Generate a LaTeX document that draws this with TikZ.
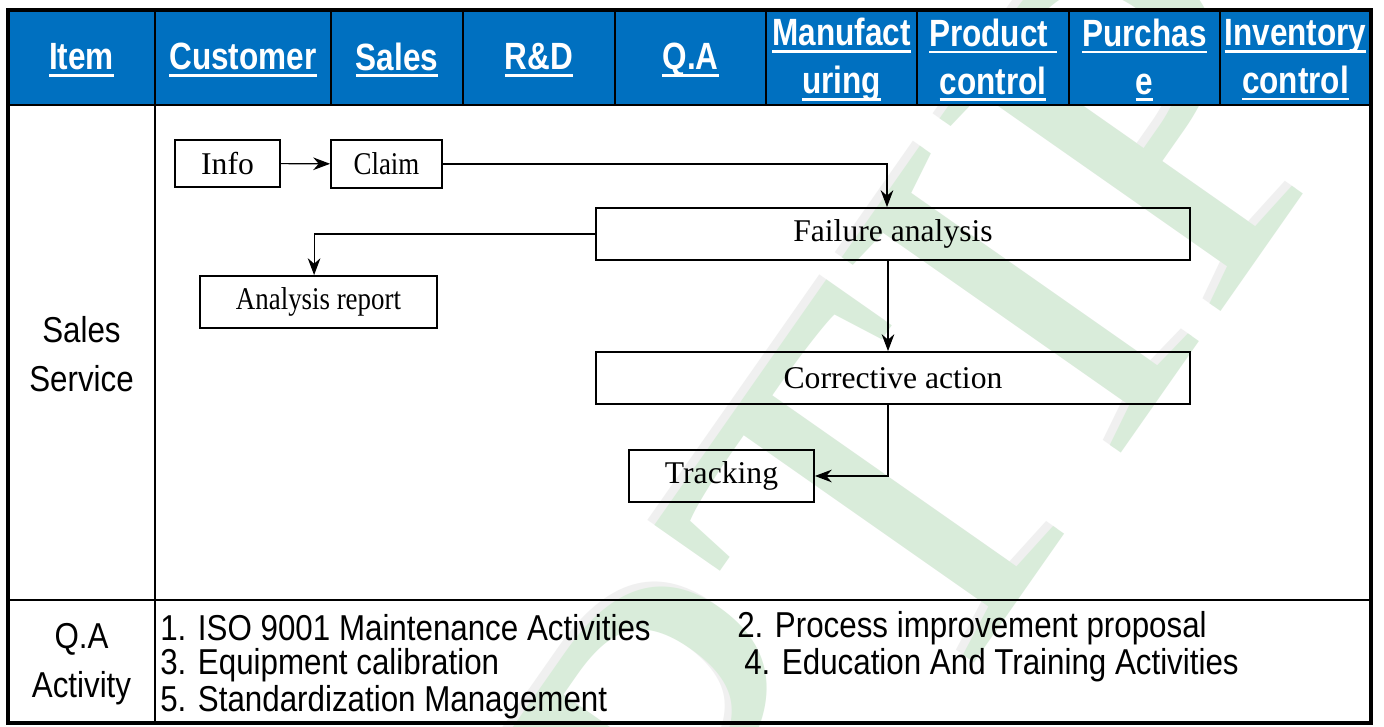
\documentclass[tikz,border=0pt]{standalone}
\usepackage{fontspec}
\setmainfont{Liberation Serif}
\setsansfont{Liberation Sans}
\newfontfamily\narrowsans[FakeStretch=0.87]{Liberation Sans}
\newfontfamily\headsans[FakeStretch=0.83]{Liberation Sans}
\newfontfamily\narrowserif[FakeStretch=0.85]{Liberation Serif}
\usetikzlibrary{arrows.meta}
\definecolor{headblue}{RGB}{0,112,192}
\definecolor{markgreen}{RGB}{217,236,218}
\newcommand{\hdul}[1]{\setbox0\hbox{#1}\rlap{\rule[-5pt]{\wd0}{2pt}}\box0}
\tikzstyle{flowbox}=[draw, line width=1.3pt, inner sep=0pt, font=\fontsize{22.5}{26}\selectfont]
\tikzstyle{headtext}=[text=white, align=center, font=\headsans\bfseries\fontsize{27}{34}\selectfont]
\tikzstyle{rowtext}=[align=center, font=\narrowsans\fontsize{25.6}{35}\selectfont]
\tikzstyle{itemtext}=[anchor=west, inner sep=0pt, font=\narrowsans\fontsize{25.6}{30}\selectfont]
\tikzstyle{flow}=[line width=0.8pt, -{Stealth[length=12pt,width=9pt]}]
\tikzstyle{grid}=[line width=1.6pt]

\begin{document}
\begin{tikzpicture}[x=0.025cm, y=-0.025cm,
  boxsize/.style 2 args={minimum width=#1*0.025cm, minimum height=#2*0.025cm}]
\useasboundingbox[fill=white] (0,0) rectangle (1384,727);

% watermark
\node[rotate=55, text=black!6, font=\fontsize{370}{370}\selectfont] (markshadow) at (923,425) {PTIP};
\node[rotate=55, text=markgreen, font=\fontsize{370}{370}\selectfont] (mark) at (930,430) {PTIP};

% header row
\fill[headblue] (8,10) rectangle (1371,105);
\foreach \x in {331,463,615,766,917,1069,1220}
  \draw[grid] (\x,10) -- (\x,105);
\foreach \x/\txt in {81.5/Item, 243/Customer, 397/Sales, 539/R\&D, 690.5/Q.A}
  \node[headtext] at (\x,60) {\hdul{\txt}};
\node[headtext] (manuf) at (841.5,60) {\hdul{Manufact}\\\hdul{uring}};
\node[headtext] (prodctl) at (993,60) {\hdul{Product }\\\hdul{control}};
\node[headtext] (purch) at (1144.5,60) {\hdul{Purchas}\\\hdul{e}};
\node[headtext] (invctl) at (1295.5,60) {\hdul{Inventory}\\\hdul{control}};

% table lines
\draw[grid] (8,105) -- (1371,105);
\draw[grid] (8,600) -- (1371,600);
\draw[grid] (155,10) -- (155,723);
\draw[line width=2.2pt] (8,10) rectangle (1371,723);

% row labels
\node[rowtext] (salesrow) at (81.5,354) {Sales\\Service};
\node[rowtext] (qarow) at (81.5,664) {Q.A\\Activity};

% flow
\node[flowbox, boxsize={105}{47}] (info) at (227.5,163.5) {Info};
\node[flowbox, boxsize={111}{48}] (claim) at (386.5,164) {\narrowserif Claim};
\node[flowbox, boxsize={594}{52}] (failure) at (893,234) {Failure analysis};
\node[flowbox, boxsize={237}{52}] (report) at (318.5,302) {\narrowserif Analysis report};
\node[flowbox, boxsize={594}{52}] (corrective) at (893,378) {Corrective action};
\node[flowbox, boxsize={185}{52}] (tracking) at (721.5,476) {Tracking};

\draw[flow] (info) -- (claim);
\draw[flow] (claim) -| ([xshift=-0.15cm]failure.north);
\draw[flow] (failure) -| ([xshift=-0.11cm]report.north);
\draw[flow] ([xshift=-0.125cm]failure.south) -- ([xshift=-0.125cm]corrective.north);
\draw[flow] ([xshift=-0.125cm]corrective.south) |- (tracking);

% Q.A activity items
\node[itemtext] (item1) at (160,628) {1. ISO 9001 Maintenance Activities};
\node[itemtext] (item2) at (737,628) {2. Process improvement proposal};
\node[itemtext] (item3) at (160,665) {3. Equipment calibration};
\node[itemtext] (item4) at (744,665) {4. Education And Training Activities};
\node[itemtext] (item5) at (160,702) {5. Standardization Management};
\end{tikzpicture}
\end{document}
